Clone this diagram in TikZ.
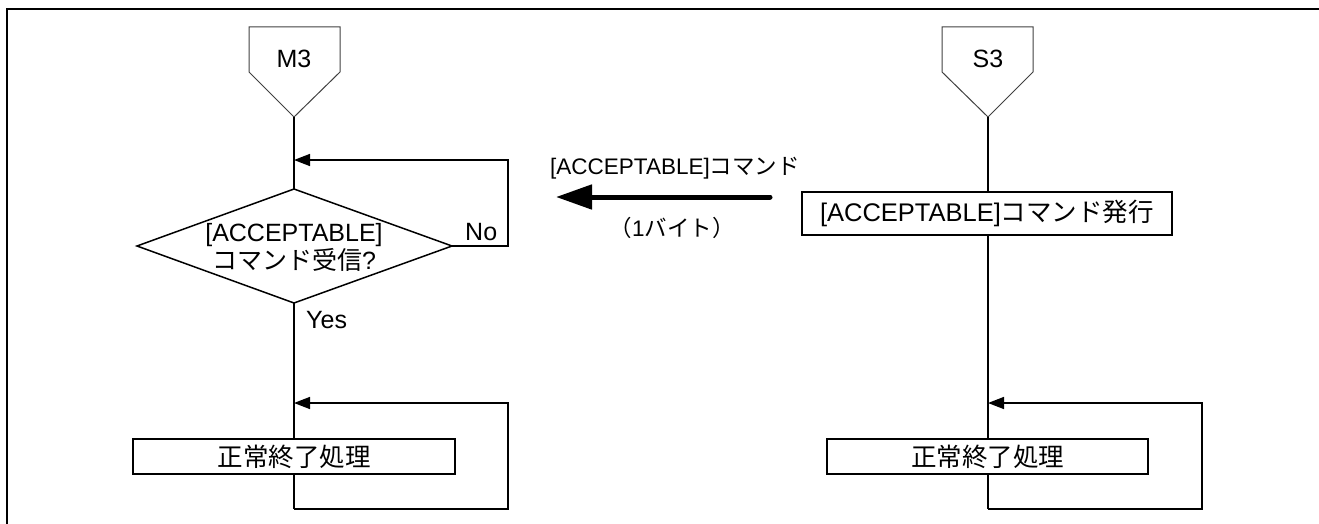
\documentclass[tikz,border=0pt]{standalone}
\usepackage{fontspec}
\setmainfont{Liberation Sans}
\newfontfamily\jp{Noto Sans CJK JP}
\usetikzlibrary{arrows.meta}
\tikzset{
  flow/.style={line width=1.5pt, draw=black},
  pent/.style={line width=1pt, draw=black!75},
  loopline/.style={line width=1.5pt, -{Triangle[length=16pt,width=12pt]}},
  procbox/.style={draw, line width=1.5pt, fill=white, inner sep=0pt},
  lbl/.style={font=\fontsize{25}{28}\selectfont, inner sep=0pt},
  boxtxt/.style={font=\fontsize{25.5}{28}\selectfont},
  smalllbl/.style={font=\fontsize{22.5}{26}\selectfont, inner sep=0pt},
}
\begin{document}
\begin{tikzpicture}[x=1pt,y=-1pt]
\useasboundingbox (0,0) rectangle (1319,524);
% frame
\draw[line width=2.5pt] (7,524) -- (7,9) -- (1319,9);

% ---------- left: M3 ----------
\coordinate (m3tip) at (294,117);
\draw[pent] (249,27) -- (249,72) -- (m3tip) -- (340,72) -- (340,27) -- cycle;
\node[lbl] (m3) at (294,59) {M3};

\coordinate (dN) at (294,189);
\coordinate (dE) at (452,246);
\coordinate (dS) at (294,303);
\coordinate (dW) at (137,246);
\draw[flow] (dN) -- (dE) -- (dS) -- (dW) -- cycle;
\node[lbl, align=center] (dtext) at (294,247) {[ACCEPTABLE]\\[0pt]{\jp コマンド受信}?};
\coordinate (j1) at (294,160);
\draw[flow] (m3tip) -- (dN);
\draw[loopline] (dE) -- ++(56,0) |- (j1);
\node[lbl, anchor=west] (no) at (465,232) {No};
\node[lbl, anchor=west] (yes) at (306,320) {Yes};

\coordinate (bL) at (294,509);
\coordinate (j2) at (294,403);
\draw[flow] (dS) -- (bL);
\draw[loopline] (bL) -- ++(214,0) |- (j2);
\node[procbox, boxtxt, minimum width=322pt, minimum height=35pt] (endL) at (294,456.5) {\jp 正常終了処理};

% ---------- right: S3 ----------
\coordinate (s3tip) at (988,117);
\draw[pent] (942,27) -- (942,72) -- (s3tip) -- (1033,72) -- (1033,27) -- cycle;
\node[lbl] (s3) at (988,59) {S3};
\coordinate (bR) at (988,509);
\coordinate (j3) at (988,403);
\draw[flow] (s3tip) -- (bR);
\draw[loopline] (bR) -- ++(214,0) |- (j3);
\node[procbox, boxtxt, minimum width=370pt, minimum height=43pt] (send) at (987,213.5) {[ACCEPTABLE]{\jp コマンド発行}};
\node[procbox, boxtxt, minimum width=321pt, minimum height=35pt] (endR) at (987.5,456.5) {\jp 正常終了処理};

% ---------- message arrow ----------
\coordinate (aS) at (770,197);
\coordinate (aE) at (556,197);
\draw[line width=5pt, line cap=round, -{Triangle[length=36pt,width=24pt]}] (aS) -- (aE);
\node[smalllbl] (cmd) at (675,168) {[ACCEPTABLE]{\jp コマンド}};
\node[smalllbl] (byte) at (672,228) {{\jp （}1{\jp バイト）}};
\end{tikzpicture}
\end{document}
